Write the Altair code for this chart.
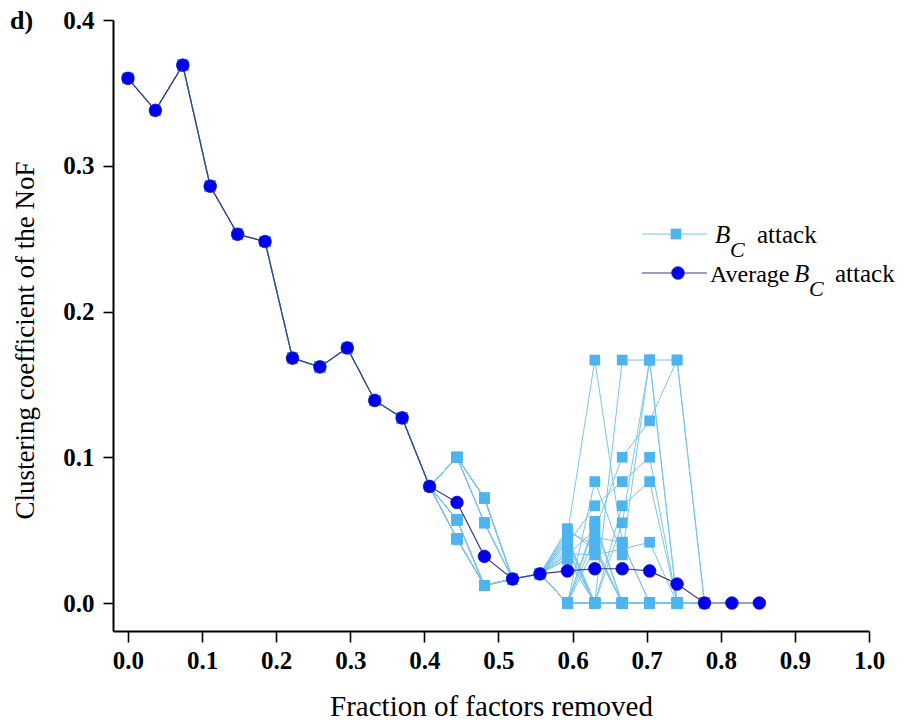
import altair as alt
import pandas as pd

# Fraction of factors removed at each attack step (27 factors in total)
fraction_removed = [0.000, 0.037, 0.074, 0.111, 0.148, 0.185, 0.222, 0.259, 0.296, 0.333, 0.370, 0.407,
                    0.444, 0.481, 0.519, 0.556, 0.593, 0.630, 0.667, 0.704, 0.741, 0.778, 0.815, 0.852]

# Average clustering coefficient over all B_C attack runs
avg_bc_attack = [0.360, 0.338, 0.369, 0.286, 0.253, 0.248, 0.168, 0.162, 0.175, 0.139, 0.127, 0.080,
                 0.069, 0.032, 0.0165, 0.020, 0.022, 0.0235, 0.0235, 0.022, 0.013, 0.0, 0.0, 0.0]

# Individual B_C attack runs (24 runs). Up to 0.407 removed every run follows the average;
# the lists below hold each run's value at the later steps.
bc_0444 = [0.100] * 10 + [0.057] * 6 + [0.044] * 8
bc_0481 = [0.072] * 6 + [0.055] * 4 + [0.012] * 14
bc_0519 = [0.0165] * 24
bc_0556 = [0.020] * 24
bc_0593 = [0.051, 0.047, 0.043, 0.040, 0.036, 0.033, 0.030, 0.049, 0.045, 0.038, 0.034, 0.042,
           0.031, 0.0, 0.0, 0.0, 0.0, 0.0, 0.0, 0.0, 0.0, 0.0, 0.0, 0.0]
bc_0630 = [0.036, 0.1667, 0.0, 0.0667, 0.0, 0.050, 0.0, 0.040, 0.0, 0.0, 0.033, 0.0,
           0.0, 0.0833, 0.056, 0.045, 0.0, 0.053, 0.038, 0.0, 0.0, 0.0, 0.0, 0.0]
bc_0667 = [0.0, 0.0417, 0.1667, 0.0833, 0.0, 0.100, 0.055, 0.0, 0.0667, 0.0, 0.037, 0.0,
           0.0, 0.033, 0.0, 0.0417, 0.0, 0.0, 0.0, 0.0, 0.0, 0.0, 0.0, 0.0]
bc_0704 = [0.0, 0.0, 0.1667, 0.100, 0.0, 0.125, 0.1667, 0.0, 0.0833, 0.0, 0.0417, 0.0,
           0.0, 0.1667, 0.0, 0.0, 0.0, 0.0, 0.0, 0.0, 0.0, 0.0, 0.0, 0.0]
bc_0741 = [0.0, 0.0, 0.1667, 0.0, 0.0, 0.1667, 0.0, 0.0, 0.0, 0.0, 0.0, 0.0,
           0.0, 0.0, 0.0, 0.0, 0.0, 0.0, 0.0, 0.0, 0.0, 0.0, 0.0, 0.0]
bc_0778 = [0.0] * 24

later_steps = [bc_0444, bc_0481, bc_0519, bc_0556, bc_0593, bc_0630,
               bc_0667, bc_0704, bc_0741, bc_0778]

rows = []
for run in range(24):
    values = avg_bc_attack[:12] + [step[run] for step in later_steps]
    for frac, val in zip(fraction_removed, values):
        rows.append({"run": run, "fraction": frac, "cc": val})
runs_df = pd.DataFrame(rows)
avg_df = pd.DataFrame({"fraction": fraction_removed, "cc": avg_bc_attack})

SERIF = "Liberation Serif"
LIGHT_LINE = "#78C6EA"
LIGHT_MARK = "#4DB4EE"
DARK_LINE = "#3C3C7C"
DARK_MARK = "#0000EE"

x_enc = alt.X(
    "fraction:Q",
    scale=alt.Scale(domain=[-0.0202, 1.0], nice=False, zero=False),
    axis=alt.Axis(
        values=[0.0, 0.1, 0.2, 0.3, 0.4, 0.5, 0.6, 0.7, 0.8, 0.9, 1.0],
        format=".1f",
        title="Fraction of factors removed",
        titleFontSize=29,
        labelPadding=6,
        tickSize=11,
        titleX=378,
        titleY=84,
        titleBaseline="alphabetic",
        titleAlign="center",
    ),
)
y_enc = alt.Y(
    "cc:Q",
    scale=alt.Scale(domain=[-0.0192, 0.4], nice=False, zero=False),
    axis=alt.Axis(
        values=[0.0, 0.1, 0.2, 0.3, 0.4],
        format=".1f",
        title="Clustering coefficient of the NoF",
        titleFontSize=27,
        labelPadding=9,
        tickSize=10,
        titleX=-80,
        titleY=320,
        titleBaseline="alphabetic",
        titleAlign="center",
    ),
)

run_lines = alt.Chart(runs_df).mark_line(color=LIGHT_LINE, strokeWidth=1).encode(
    x=x_enc, y=y_enc, detail="run:N", order="fraction:Q"
)
run_marks = alt.Chart(runs_df).mark_point(
    shape="square", filled=True, size=115, color=LIGHT_MARK, opacity=1
).encode(x="fraction:Q", y="cc:Q")

avg_line = alt.Chart(avg_df).mark_line(color=DARK_LINE, strokeWidth=1.2).encode(
    x="fraction:Q", y="cc:Q"
)
avg_marks = alt.Chart(avg_df).mark_point(
    shape="circle", filled=True, size=160, color=DARK_MARK, opacity=1,
    stroke="#1A1AB0", strokeWidth=0.8
).encode(x="fraction:Q", y="cc:Q")

# Hand-drawn legend with italic B and subscript C
one = pd.DataFrame({"k": [0]})
leg_line1 = alt.Chart(one).mark_rule(color=LIGHT_LINE, strokeWidth=1.2).encode(
    x=alt.value(529), x2=alt.value(594), y=alt.value(214)
)
leg_mark1 = alt.Chart(one).mark_point(
    shape="square", filled=True, size=115, color=LIGHT_MARK, opacity=1
).encode(x=alt.value(563), y=alt.value(214))
leg_line2 = alt.Chart(one).mark_rule(color=DARK_LINE, strokeWidth=1.2).encode(
    x=alt.value(529), x2=alt.value(594), y=alt.value(253)
)
leg_mark2 = alt.Chart(one).mark_point(
    shape="circle", filled=True, size=160, color=DARK_MARK, opacity=1,
    stroke="#1A1AB0", strokeWidth=0.8
).encode(x=alt.value(565), y=alt.value(253))


def label(text, x, y, size=25, style="normal", weight="normal"):
    return alt.Chart(one).mark_text(
        text=text, font=SERIF, fontSize=size, fontStyle=style, fontWeight=weight,
        align="left", baseline="alphabetic", color="black"
    ).encode(x=alt.value(x), y=alt.value(y))


legend_text = [
    label("B", 602, 223, style="italic"),
    label("C", 617, 237, size=22, style="italic"),
    label("attack", 644, 223),
    label("Average", 597, 262, size=24),
    label("B", 681, 262, style="italic"),
    label("C", 696, 276, size=22, style="italic"),
    label("attack", 722, 262),
    label("d)", -103, 9, size=26, weight="bold"),
]

chart = alt.layer(
    run_lines, run_marks, avg_line, avg_marks,
    leg_line1, leg_mark1, leg_line2, leg_mark2, *legend_text
).properties(
    width=756,
    height=611,
    padding={"left": 113, "top": 20, "right": 51, "bottom": 92},
    autosize=alt.AutoSizeParams(type="none"),
    background="white",
).configure_view(
    stroke=None
).configure_axis(
    grid=False,
    domainColor="black",
    domainWidth=2,
    tickColor="black",
    tickWidth=1.6,
    labelFont=SERIF,
    labelFontSize=25,
    labelFontWeight="bold",
    labelColor="black",
    labelFlush=False,
    labelOverlap=False,
    titleFont=SERIF,
    titleFontWeight="normal",
    titleColor="black",
)

chart.save("out.html", embed_options={"renderer": "svg", "actions": False})
